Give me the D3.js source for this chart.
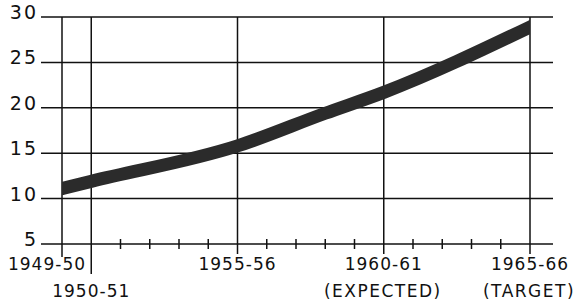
<!DOCTYPE html>
<html>
<head>
<meta charset="utf-8">
<script src="https://cdn.jsdelivr.net/npm/d3@7"></script>
<style>
  html, body { margin: 0; padding: 0; background: #fff; }
  svg text { font-family: "DejaVu Sans", sans-serif; fill: #111; }
</style>
</head>
<body>
<div id="chart"></div>
<script>
// values
const years = [1949, 1950, 1955, 1958, 1960, 1965];
const values = [11.1, 11.9, 15.8, 19.4, 21.7, 28.9];

// axis ticks and labels
const yTicks = [5, 10, 15, 20, 25, 30];
const majorYears = [1949, 1950, 1955, 1960, 1965];
const majorLabels = ["1949-50", "1950-51", "1955-56", "1960-61", "1965-66"];
const subLabels = ["", "", "", "(EXPECTED)", "(TARGET)"];
const minorYears = [1951, 1952, 1953, 1954, 1956, 1957, 1958, 1959, 1961, 1962, 1963, 1964];

const width = 578, height = 304;

const svg = d3.select("#chart").append("svg")
  .attr("width", width)
  .attr("height", height);

const x = d3.scaleLinear().domain([1949, 1965]).range([62, 530]);
const y = d3.scaleLinear().domain([5, 30]).range([244, 17]);

const gridLeft = 41, gridRight = 553;

// horizontal rules with dash ticks
svg.append("g").selectAll("line")
  .data(yTicks)
  .enter().append("line")
  .attr("x1", gridLeft)
  .attr("x2", gridRight)
  .attr("y1", d => y(d))
  .attr("y2", d => y(d))
  .attr("stroke", "#111")
  .attr("stroke-width", 1.5);

svg.append("g").selectAll("text")
  .data(yTicks)
  .enter().append("text")
  .attr("x", 38)
  .attr("y", d => y(d))
  .attr("dy", "0.1em")
  .attr("text-anchor", "end")
  .style("font-size", "19px")
  .style("letter-spacing", "2px")
  .text(d => d);

// vertical rules
svg.append("g").selectAll("line")
  .data(majorYears)
  .enter().append("line")
  .attr("x1", d => x(d))
  .attr("x2", d => x(d))
  .attr("y1", y(30))
  .attr("y2", d => d === 1950 ? 274 : (d === 1949 ? 257 : 254))
  .attr("stroke", "#111")
  .attr("stroke-width", 1.5);

// minor ticks on the base line
svg.append("g").selectAll("line")
  .data(minorYears)
  .enter().append("line")
  .attr("x1", d => x(d))
  .attr("x2", d => x(d))
  .attr("y1", y(5) - 5)
  .attr("y2", y(5) + 5)
  .attr("stroke", "#111")
  .attr("stroke-width", 1.5);

// year labels
const labelG = svg.append("g");
majorYears.forEach((yr, i) => {
  const low = yr === 1950;
  let cx = x(yr);
  if (yr === 1949) cx = 47;
  labelG.append("text")
    .attr("x", cx)
    .attr("y", low ? 297 : 270)
    .attr("text-anchor", "middle")
    .style("font-size", "17px")
    .style("letter-spacing", "1px")
    .text(majorLabels[i]);
  if (subLabels[i]) {
    labelG.append("text")
      .attr("x", x(yr) - 1)
      .attr("y", 297)
      .attr("text-anchor", "middle")
      .style("font-size", "17px")
      .style("letter-spacing", "1.5px")
      .text(subLabels[i]);
  }
});

// the thick band, cut square at both end years
svg.append("clipPath")
  .attr("id", "band-clip")
  .append("rect")
  .attr("x", x(1949))
  .attr("y", 0)
  .attr("width", x(1965) - x(1949))
  .attr("height", height);

const line = d3.line()
  .x((d, i) => x(years[i]))
  .y(d => y(d))
  .curve(d3.curveMonotoneX);

svg.append("path")
  .datum(values)
  .attr("d", line)
  .attr("clip-path", "url(#band-clip)")
  .attr("fill", "none")
  .attr("stroke", "#2b2b2b")
  .attr("stroke-width", 13)
  .attr("stroke-linecap", "square");
</script>
</body>
</html>
